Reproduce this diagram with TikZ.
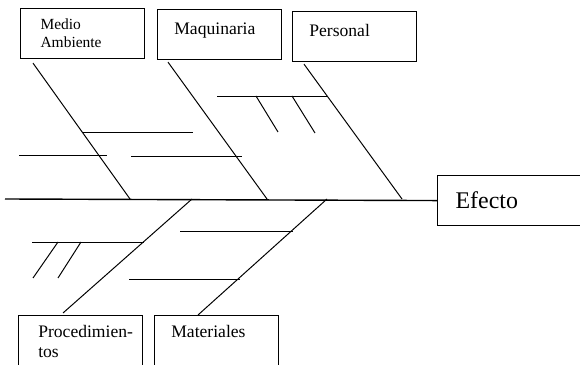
\documentclass[tikz,border=0pt]{standalone}
\usepackage{fontspec}
\setmainfont{Liberation Serif}
\usetikzlibrary{positioning, calc}
\tikzset{
    % Boxes for the causes
    causa/.style={
        rectangle,
        draw=black,
        line width=0.8pt,
        anchor=north west,
        align=left,
        inner xsep=0.42cm,
        inner ysep=2pt,
        text width=2.26cm,
        minimum height=1.25cm,
        font=\fontsize{12.5}{14}\selectfont
    },
    efecto box/.style={
        causa,
        text width=2.9cm,
        font=\fontsize{17}{20}\selectfont
    },
    etiqueta/.style={
        anchor=north west,
        align=left,
        inner sep=0pt,
        font=\fontsize{12.5}{14.5}\selectfont
    },
    espina/.style={
        line width=1pt,
        black
    },
    hueso/.style={
        line width=0.7pt,
        black
    },
    rama/.style={
        line width=0.7pt,
        black
    }
}
\begin{document}
\begin{tikzpicture}[x=0.025cm, y=-0.025cm]
        \useasboundingbox (0,0) rectangle (580,365);
        \clip (0,0) rectangle (580,365);

        % Upper causes
        \node[causa, font=\fontsize{11}{12.8}\selectfont, inner xsep=0.5cm, text width=2.1cm] (medio) at (20,8) {Medio\\Ambiente};
        \node[causa, text depth=0.3cm] (maquinaria) at (157,9) {Maquinaria};
        \node[causa, text depth=0.3cm] (personal) at (292,11) {Personal};

        % Lower causes
        \node[causa, minimum height=1.3cm] (procedimientos) at (18,315) {};
        \node[etiqueta] (procedimientos-texto) at ($(procedimientos.north west)+(20,10)$) {Procedimien-\\tos};
        \node[causa, text depth=0.45cm] (materiales) at (154,315) {Materiales};

        % Effect
        \node[efecto box, inner xsep=0.45cm] (efecto) at (437,175) {Efecto};

        % Spine
        \coordinate (cola) at (5,199);
        \draw[espina] (cola) -- (efecto.west);

        % Main bones
        \coordinate (medio-fin) at (130,199);
        \coordinate (maquinaria-fin) at (267,199);
        \coordinate (personal-fin) at (402,199);
        \coordinate (procedimientos-fin) at (192,199);
        \coordinate (materiales-fin) at (327,199);
        \draw[hueso] ($(medio.south west)+(13,4)$) -- (medio-fin);
        \draw[hueso] ($(maquinaria.south west)+(11,2)$) -- (maquinaria-fin);
        \draw[hueso] ($(personal.south west)+(12,2)$) -- (personal-fin);
        \draw[hueso] ($(procedimientos.north west)+(45,-2)$) -- (procedimientos-fin);
        \draw[hueso] ($(materiales.north west)+(44,0)$) -- (materiales-fin);

        % Secondary branches, top
        \draw[rama] (83,132) -- (193,132);
        \draw[rama] (19,155) -- (107,155);
        \draw[rama] (131,156) -- (242,156);
        \draw[rama] (217,96) -- (328,96);
        \draw[rama] (256,96) -- (278,132);
        \draw[rama] (292,96) -- (315,133);

        % Secondary branches, bottom
        \draw[rama] (32,242) -- (144,242);
        \draw[rama] (58,242) -- (33,278);
        \draw[rama] (81,242) -- (58,278);
        \draw[rama] (180,231) -- (293,231);
        \draw[rama] (129,279) -- (240,279);
    \end{tikzpicture}
\end{document}
